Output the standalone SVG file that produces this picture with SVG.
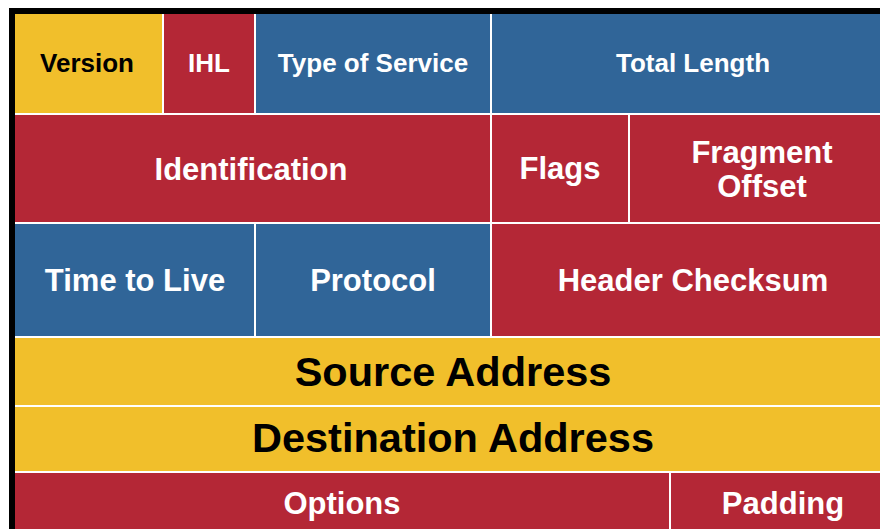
<svg xmlns="http://www.w3.org/2000/svg" width="880" height="529" viewBox="0 0 880 529">
<style>
.y{fill:#F1BF2B}.r{fill:#B42736}.b{fill:#306598}
text{font-family:"Liberation Sans",Arial,sans-serif;font-weight:bold;text-anchor:middle}
.w{fill:#FFFFFF}.k{fill:#000000}
.s{font-size:26px}.m{font-size:31px}.l{font-size:41.5px}
</style>
<rect x="0" y="0" width="880" height="529" fill="#FFFFFF"/>
<rect x="9" y="8" width="871" height="6" fill="#000000"/>
<rect x="9" y="8" width="6" height="521" fill="#000000"/>
<rect x="15" y="14" width="865" height="515" fill="#FFFFFF"/>
<g id="version"><rect class="y" x="15" y="14" width="147" height="99"/><text class="s k" x="87" y="72">Version</text></g>
<g id="ihl"><rect class="r" x="164" y="14" width="90" height="99"/><text class="s w" x="209" y="72">IHL</text></g>
<g id="tos"><rect class="b" x="256" y="14" width="234" height="99"/><text class="s w" x="373" y="72">Type of Service</text></g>
<g id="totallength"><rect class="b" x="492" y="14" width="388" height="99"/><text class="s w" x="693" y="72">Total Length</text></g>
<g id="identification"><rect class="r" x="15" y="115" width="475" height="107"/><text class="m w" x="251" y="180">Identification</text></g>
<g id="flags"><rect class="r" x="492" y="115" width="136" height="107"/><text class="m w" x="560" y="179">Flags</text></g>
<g id="fragment"><rect class="r" x="630" y="115" width="250" height="107"/><text class="m w" x="762" y="163">Fragment</text><text class="m w" x="762" y="197">Offset</text></g>
<g id="ttl"><rect class="b" x="15" y="224" width="239" height="112"/><text class="m w" x="135" y="291">Time to Live</text></g>
<g id="protocol"><rect class="b" x="256" y="224" width="234" height="112"/><text class="m w" x="373" y="291">Protocol</text></g>
<g id="checksum"><rect class="r" x="492" y="224" width="388" height="112"/><text class="m w" x="693" y="291">Header Checksum</text></g>
<g id="source"><rect class="y" x="15" y="338" width="865" height="67"/><text class="l k" x="453" y="386">Source Address</text></g>
<g id="destination"><rect class="y" x="15" y="407" width="865" height="64"/><text class="l k" x="453" y="452">Destination Address</text></g>
<g id="options"><rect class="r" x="15" y="473" width="654" height="56"/><text class="m w" x="342" y="514">Options</text></g>
<g id="padding"><rect class="r" x="671" y="473" width="209" height="56"/><text class="m w" x="783" y="514">Padding</text></g>
<g id="connectors"></g>
</svg>
